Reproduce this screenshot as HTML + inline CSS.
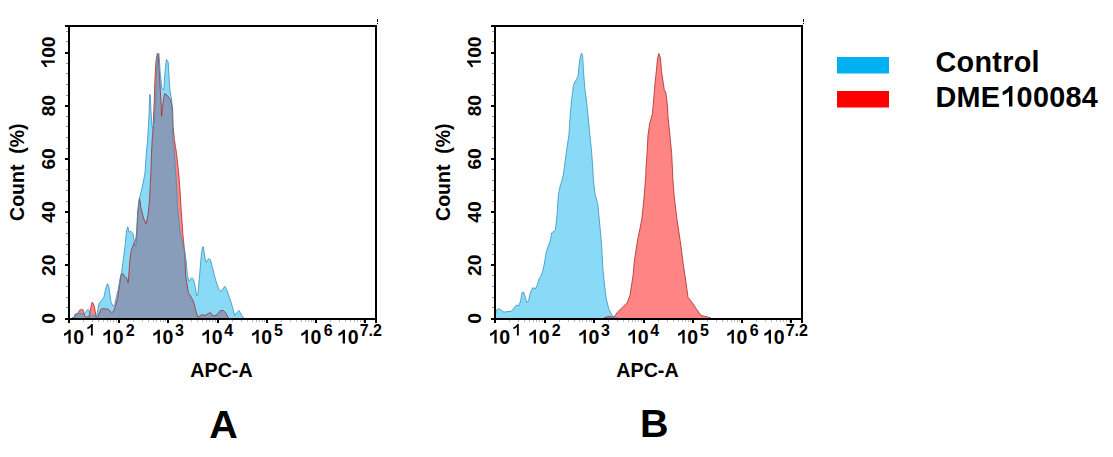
<!DOCTYPE html>
<html><head><meta charset="utf-8"><style>
html,body{margin:0;padding:0;background:#fff;width:1113px;height:457px;overflow:hidden}
svg{display:block}
text{font-family:"Liberation Sans",sans-serif;font-weight:bold;fill:#000} path{fill:#000}
.t16{font-size:16px} .t18{font-size:19.5px} .t19{font-size:19.5px} .ta{font-size:19.7px} .t29{font-size:29.3px} .t38{font-size:39.5px}
</style></head><body>
<svg width="1113" height="457" viewBox="0 0 1113 457"><rect width="1113" height="457" fill="#fff"/><polygon points="72.0,318.0 74.2,317.2 75.4,314.5 77.7,313.4 79.6,310.3 81.5,309.4 83.0,309.9 83.8,311.8 84.6,315.7 85.7,317.0 89.0,317.0 90.3,310.3 91.5,304.2 92.2,302.2 93.4,303.8 94.5,307.2 95.3,311.8 96.1,316.4 96.8,317.6 97.8,316.8 100.8,309.6 103.2,308.4 105.6,309.0 108.0,309.0 109.9,310.8 111.7,312.6 113.5,311.4 115.9,304.8 117.7,297.5 119.5,285.5 121.0,274.7 122.8,273.5 124.6,276.5 126.4,277.7 128.2,282.5 128.8,274.7 130.0,259.1 131.2,250.6 133.0,245.8 134.2,242.2 135.4,241.0 136.0,237.4 136.7,232.0 137.6,213.1 138.9,202.6 139.5,198.0 141.0,208.0 143.5,218.0 146.0,224.0 148.0,215.0 149.5,200.0 150.2,186.0 150.9,172.8 151.5,153.1 152.2,140.0 153.0,130.0 154.0,105.0 154.4,97.5 154.7,84.4 155.3,71.3 156.0,60.8 157.3,53.5 158.0,53.5 159.3,71.3 160.3,90.0 161.2,105.9 161.5,116.4 163.0,103.0 164.7,93.6 167.3,95.4 170.8,100.6 172.6,108.0 173.1,126.3 174.4,139.4 176.4,152.5 178.8,174.0 180.3,194.4 181.2,210.2 182.9,234.2 184.3,248.7 184.8,252.3 185.6,275.0 188.3,292.5 192.6,299.5 194.4,304.8 196.1,311.8 197.9,317.0 200.0,316.0 202.3,314.4 204.9,315.5 208.4,313.4 210.6,312.7 213.4,316.2 217.0,314.8 220.5,310.5 223.4,310.5 226.2,313.4 227.7,316.9 229.0,318.0" fill="#ff0b09" fill-opacity="0.5" stroke="none"/><polygon points="72.0,318.0 74.6,317.2 75.0,314.1 78.4,313.7 81.5,313.4 83.8,314.1 85.3,312.6 87.6,309.5 88.8,309.9 89.5,311.8 90.3,315.7 91.5,316.5 93.0,315.0 95.0,316.0 96.4,317.2 97.2,313.2 99.0,303.6 101.4,300.5 103.8,297.5 105.6,289.1 107.4,283.7 108.7,285.5 109.9,293.9 111.1,302.3 112.9,306.0 114.7,304.8 116.5,296.3 118.3,289.1 120.1,278.3 121.6,272.3 123.4,259.1 125.2,244.5 126.5,230.8 127.8,226.8 129.1,232.1 131.1,231.4 133.0,233.4 134.4,242.6 135.7,246.6 136.3,242.6 137.0,230.8 137.7,215.0 138.5,203.0 139.5,198.0 141.0,192.5 143.0,183.3 145.0,172.8 146.3,153.1 147.6,140.0 148.9,118.0 149.7,94.2 150.3,95.0 151.0,112.0 152.0,126.0 153.0,129.0 154.6,118.0 155.4,106.0 155.9,90.0 156.5,72.0 157.2,61.0 158.2,54.0 159.0,53.5 160.3,74.3 162.0,88.4 163.8,90.1 165.2,70.0 166.4,59.4 168.2,62.0 169.9,90.0 171.7,100.6 172.3,113.0 172.6,126.0 172.8,139.0 174.2,150.0 176.5,186.0 177.7,210.0 180.3,234.0 184.6,252.3 186.2,261.0 187.4,275.0 189.1,281.2 191.8,277.7 193.5,279.4 195.3,287.3 196.7,296.0 197.9,294.3 199.6,275.0 201.4,254.0 202.6,247.0 203.3,246.8 204.6,256.0 206.0,262.5 208.6,258.6 210.5,259.9 211.5,264.0 212.7,268.5 215.6,279.9 219.1,289.9 221.2,291.3 224.8,286.3 226.9,289.9 231.2,302.7 234.8,315.5 236.9,312.7 239.0,310.5 241.2,314.1 242.6,316.9 244.0,318.0" fill="#11b5ef" fill-opacity="0.5" stroke="none"/><polyline points="72.0,318.0 74.2,317.2 75.4,314.5 77.7,313.4 79.6,310.3 81.5,309.4 83.0,309.9 83.8,311.8 84.6,315.7 85.7,317.0 89.0,317.0 90.3,310.3 91.5,304.2 92.2,302.2 93.4,303.8 94.5,307.2 95.3,311.8 96.1,316.4 96.8,317.6 97.8,316.8 100.8,309.6 103.2,308.4 105.6,309.0 108.0,309.0 109.9,310.8 111.7,312.6 113.5,311.4 115.9,304.8 117.7,297.5 119.5,285.5 121.0,274.7 122.8,273.5 124.6,276.5 126.4,277.7 128.2,282.5 128.8,274.7 130.0,259.1 131.2,250.6 133.0,245.8 134.2,242.2 135.4,241.0 136.0,237.4 136.7,232.0 137.6,213.1 138.9,202.6 139.5,198.0 141.0,208.0 143.5,218.0 146.0,224.0 148.0,215.0 149.5,200.0 150.2,186.0 150.9,172.8 151.5,153.1 152.2,140.0 153.0,130.0 154.0,105.0 154.4,97.5 154.7,84.4 155.3,71.3 156.0,60.8 157.3,53.5 158.0,53.5 159.3,71.3 160.3,90.0 161.2,105.9 161.5,116.4 163.0,103.0 164.7,93.6 167.3,95.4 170.8,100.6 172.6,108.0 173.1,126.3 174.4,139.4 176.4,152.5 178.8,174.0 180.3,194.4 181.2,210.2 182.9,234.2 184.3,248.7 184.8,252.3 185.6,275.0 188.3,292.5 192.6,299.5 194.4,304.8 196.1,311.8 197.9,317.0 200.0,316.0 202.3,314.4 204.9,315.5 208.4,313.4 210.6,312.7 213.4,316.2 217.0,314.8 220.5,310.5 223.4,310.5 226.2,313.4 227.7,316.9 229.0,318.0" fill="none" stroke="#a82a2a" stroke-width="0.8" stroke-linejoin="miter" stroke-miterlimit="2"/><polyline points="72.0,318.0 74.6,317.2 75.0,314.1 78.4,313.7 81.5,313.4 83.8,314.1 85.3,312.6 87.6,309.5 88.8,309.9 89.5,311.8 90.3,315.7 91.5,316.5 93.0,315.0 95.0,316.0 96.4,317.2 97.2,313.2 99.0,303.6 101.4,300.5 103.8,297.5 105.6,289.1 107.4,283.7 108.7,285.5 109.9,293.9 111.1,302.3 112.9,306.0 114.7,304.8 116.5,296.3 118.3,289.1 120.1,278.3 121.6,272.3 123.4,259.1 125.2,244.5 126.5,230.8 127.8,226.8 129.1,232.1 131.1,231.4 133.0,233.4 134.4,242.6 135.7,246.6 136.3,242.6 137.0,230.8 137.7,215.0 138.5,203.0 139.5,198.0 141.0,192.5 143.0,183.3 145.0,172.8 146.3,153.1 147.6,140.0 148.9,118.0 149.7,94.2 150.3,95.0 151.0,112.0 152.0,126.0 153.0,129.0 154.6,118.0 155.4,106.0 155.9,90.0 156.5,72.0 157.2,61.0 158.2,54.0 159.0,53.5 160.3,74.3 162.0,88.4 163.8,90.1 165.2,70.0 166.4,59.4 168.2,62.0 169.9,90.0 171.7,100.6 172.3,113.0 172.6,126.0 172.8,139.0 174.2,150.0 176.5,186.0 177.7,210.0 180.3,234.0 184.6,252.3 186.2,261.0 187.4,275.0 189.1,281.2 191.8,277.7 193.5,279.4 195.3,287.3 196.7,296.0 197.9,294.3 199.6,275.0 201.4,254.0 202.6,247.0 203.3,246.8 204.6,256.0 206.0,262.5 208.6,258.6 210.5,259.9 211.5,264.0 212.7,268.5 215.6,279.9 219.1,289.9 221.2,291.3 224.8,286.3 226.9,289.9 231.2,302.7 234.8,315.5 236.9,312.7 239.0,310.5 241.2,314.1 242.6,316.9 244.0,318.0" fill="none" stroke="#3592bd" stroke-width="0.8" stroke-linejoin="miter" stroke-miterlimit="2"/><polygon points="604.0,318.0 608.0,316.5 612.0,316.8 614.1,317.4 615.0,315.6 617.6,312.1 622.0,307.8 627.3,302.5 629.9,295.5 631.6,285.0 633.1,275.0 634.2,262.5 636.0,250.0 637.5,240.6 641.9,218.8 644.1,196.9 645.8,175.0 645.9,170.0 647.1,152.5 648.0,135.0 649.8,122.8 652.4,114.0 653.6,100.0 654.9,84.4 656.3,71.3 657.6,58.1 658.9,53.5 660.5,58.1 661.5,71.3 663.5,84.4 664.4,91.0 665.7,91.6 666.8,100.1 667.4,105.0 668.1,117.5 669.9,135.0 671.6,152.5 672.5,170.0 672.9,180.0 674.3,196.9 676.9,218.8 680.2,240.6 681.5,250.0 683.2,264.0 685.4,278.0 688.0,297.3 691.5,301.6 696.8,309.5 701.1,315.6 704.6,316.2 709.0,317.4 711.0,318.0" fill="#ff0b09" fill-opacity="0.5" stroke="none"/><polygon points="495.0,318.0 496.1,310.4 498.8,308.6 501.4,310.4 504.0,312.1 507.5,311.6 511.0,311.3 513.6,308.6 516.3,305.1 518.9,305.7 520.6,300.8 522.0,292.9 523.6,292.0 525.0,296.4 526.8,302.5 528.5,300.8 530.6,292.0 532.9,287.6 535.2,288.9 537.3,285.0 539.0,278.9 540.8,276.3 542.5,271.9 544.3,264.0 545.7,255.3 546.9,250.0 550.5,240.0 551.5,233.1 555.4,230.1 557.0,214.4 558.4,194.7 560.4,184.8 561.4,182.5 563.3,175.0 564.5,166.5 566.3,152.5 568.9,135.0 570.1,117.5 571.5,100.0 572.3,94.9 573.4,85.7 574.3,83.1 576.9,78.5 578.2,75.2 579.1,64.7 580.0,58.1 581.5,53.1 582.6,55.5 583.5,71.3 584.8,88.3 586.4,100.0 588.2,117.5 589.9,135.0 591.7,152.5 592.9,170.0 593.4,180.0 594.8,192.7 597.8,204.5 600.7,234.1 601.9,250.0 602.8,267.5 604.5,285.0 606.3,299.0 608.9,309.5 612.4,315.6 615.0,317.4 618.0,318.0" fill="#11b5ef" fill-opacity="0.5" stroke="none"/><polyline points="604.0,318.0 608.0,316.5 612.0,316.8 614.1,317.4 615.0,315.6 617.6,312.1 622.0,307.8 627.3,302.5 629.9,295.5 631.6,285.0 633.1,275.0 634.2,262.5 636.0,250.0 637.5,240.6 641.9,218.8 644.1,196.9 645.8,175.0 645.9,170.0 647.1,152.5 648.0,135.0 649.8,122.8 652.4,114.0 653.6,100.0 654.9,84.4 656.3,71.3 657.6,58.1 658.9,53.5 660.5,58.1 661.5,71.3 663.5,84.4 664.4,91.0 665.7,91.6 666.8,100.1 667.4,105.0 668.1,117.5 669.9,135.0 671.6,152.5 672.5,170.0 672.9,180.0 674.3,196.9 676.9,218.8 680.2,240.6 681.5,250.0 683.2,264.0 685.4,278.0 688.0,297.3 691.5,301.6 696.8,309.5 701.1,315.6 704.6,316.2 709.0,317.4 711.0,318.0" fill="none" stroke="#a82a2a" stroke-width="0.8" stroke-linejoin="miter" stroke-miterlimit="2"/><polyline points="495.0,318.0 496.1,310.4 498.8,308.6 501.4,310.4 504.0,312.1 507.5,311.6 511.0,311.3 513.6,308.6 516.3,305.1 518.9,305.7 520.6,300.8 522.0,292.9 523.6,292.0 525.0,296.4 526.8,302.5 528.5,300.8 530.6,292.0 532.9,287.6 535.2,288.9 537.3,285.0 539.0,278.9 540.8,276.3 542.5,271.9 544.3,264.0 545.7,255.3 546.9,250.0 550.5,240.0 551.5,233.1 555.4,230.1 557.0,214.4 558.4,194.7 560.4,184.8 561.4,182.5 563.3,175.0 564.5,166.5 566.3,152.5 568.9,135.0 570.1,117.5 571.5,100.0 572.3,94.9 573.4,85.7 574.3,83.1 576.9,78.5 578.2,75.2 579.1,64.7 580.0,58.1 581.5,53.1 582.6,55.5 583.5,71.3 584.8,88.3 586.4,100.0 588.2,117.5 589.9,135.0 591.7,152.5 592.9,170.0 593.4,180.0 594.8,192.7 597.8,204.5 600.7,234.1 601.9,250.0 602.8,267.5 604.5,285.0 606.3,299.0 608.9,309.5 612.4,315.6 615.0,317.4 618.0,318.0" fill="none" stroke="#3592bd" stroke-width="0.8" stroke-linejoin="miter" stroke-miterlimit="2"/><rect x="65" y="25" width="312" height="2" fill="#000"/><rect x="65" y="318" width="312" height="2" fill="#000"/><rect x="68" y="25" width="2" height="298" fill="#000"/><rect x="375" y="25" width="2" height="298" fill="#000"/><rect x="377" y="19" width="1" height="3" fill="#000"/><rect x="377" y="23" width="1" height="1" fill="#000"/><rect x="65" y="264" width="3" height="2" fill="#000"/><rect x="65" y="211" width="3" height="2" fill="#000"/><rect x="65" y="158" width="3" height="2" fill="#000"/><rect x="65" y="105" width="3" height="2" fill="#000"/><rect x="65" y="52" width="3" height="2" fill="#000"/><rect x="66" y="307" width="2" height="1" fill="#999"/><rect x="66" y="297" width="2" height="1" fill="#999"/><rect x="66" y="286" width="2" height="1" fill="#999"/><rect x="66" y="275" width="2" height="1" fill="#999"/><rect x="66" y="254" width="2" height="1" fill="#999"/><rect x="66" y="244" width="2" height="1" fill="#999"/><rect x="66" y="233" width="2" height="1" fill="#999"/><rect x="66" y="222" width="2" height="1" fill="#999"/><rect x="66" y="201" width="2" height="1" fill="#999"/><rect x="66" y="190" width="2" height="1" fill="#999"/><rect x="66" y="180" width="2" height="1" fill="#999"/><rect x="66" y="169" width="2" height="1" fill="#999"/><rect x="66" y="148" width="2" height="1" fill="#999"/><rect x="66" y="137" width="2" height="1" fill="#999"/><rect x="66" y="126" width="2" height="1" fill="#999"/><rect x="66" y="116" width="2" height="1" fill="#999"/><rect x="66" y="95" width="2" height="1" fill="#999"/><rect x="66" y="84" width="2" height="1" fill="#999"/><rect x="66" y="73" width="2" height="1" fill="#999"/><rect x="66" y="63" width="2" height="1" fill="#999"/><rect x="66" y="41" width="2" height="1" fill="#999"/><rect x="66" y="31" width="2" height="1" fill="#999"/><rect x="68" y="318" width="2" height="5" fill="#000"/><rect x="83" y="320" width="1" height="2" fill="#bbb"/><rect x="92" y="320" width="1" height="2" fill="#bbb"/><rect x="98" y="320" width="1" height="2" fill="#bbb"/><rect x="103" y="320" width="1" height="2" fill="#bbb"/><rect x="107" y="320" width="1" height="2" fill="#bbb"/><rect x="110" y="320" width="1" height="2" fill="#bbb"/><rect x="113" y="320" width="1" height="2" fill="#bbb"/><rect x="116" y="320" width="1" height="2" fill="#bbb"/><rect x="118" y="318" width="2" height="5" fill="#000"/><rect x="133" y="320" width="1" height="2" fill="#bbb"/><rect x="142" y="320" width="1" height="2" fill="#bbb"/><rect x="148" y="320" width="1" height="2" fill="#bbb"/><rect x="153" y="320" width="1" height="2" fill="#bbb"/><rect x="156" y="320" width="1" height="2" fill="#bbb"/><rect x="160" y="320" width="1" height="2" fill="#bbb"/><rect x="163" y="320" width="1" height="2" fill="#bbb"/><rect x="165" y="320" width="1" height="2" fill="#bbb"/><rect x="167" y="318" width="2" height="5" fill="#000"/><rect x="182" y="320" width="1" height="2" fill="#bbb"/><rect x="191" y="320" width="1" height="2" fill="#bbb"/><rect x="197" y="320" width="1" height="2" fill="#bbb"/><rect x="202" y="320" width="1" height="2" fill="#bbb"/><rect x="206" y="320" width="1" height="2" fill="#bbb"/><rect x="209" y="320" width="1" height="2" fill="#bbb"/><rect x="212" y="320" width="1" height="2" fill="#bbb"/><rect x="215" y="320" width="1" height="2" fill="#bbb"/><rect x="217" y="318" width="2" height="5" fill="#000"/><rect x="232" y="320" width="1" height="2" fill="#bbb"/><rect x="241" y="320" width="1" height="2" fill="#bbb"/><rect x="247" y="320" width="1" height="2" fill="#bbb"/><rect x="252" y="320" width="1" height="2" fill="#bbb"/><rect x="256" y="320" width="1" height="2" fill="#bbb"/><rect x="259" y="320" width="1" height="2" fill="#bbb"/><rect x="262" y="320" width="1" height="2" fill="#bbb"/><rect x="264" y="320" width="1" height="2" fill="#bbb"/><rect x="266" y="318" width="2" height="5" fill="#000"/><rect x="281" y="320" width="1" height="2" fill="#bbb"/><rect x="290" y="320" width="1" height="2" fill="#bbb"/><rect x="296" y="320" width="1" height="2" fill="#bbb"/><rect x="301" y="320" width="1" height="2" fill="#bbb"/><rect x="305" y="320" width="1" height="2" fill="#bbb"/><rect x="308" y="320" width="1" height="2" fill="#bbb"/><rect x="311" y="320" width="1" height="2" fill="#bbb"/><rect x="313" y="320" width="1" height="2" fill="#bbb"/><rect x="315" y="318" width="2" height="5" fill="#000"/><rect x="330" y="320" width="1" height="2" fill="#bbb"/><rect x="339" y="320" width="1" height="2" fill="#bbb"/><rect x="345" y="320" width="1" height="2" fill="#bbb"/><rect x="350" y="320" width="1" height="2" fill="#bbb"/><rect x="354" y="320" width="1" height="2" fill="#bbb"/><rect x="357" y="320" width="1" height="2" fill="#bbb"/><rect x="360" y="320" width="1" height="2" fill="#bbb"/><rect x="363" y="320" width="1" height="2" fill="#bbb"/><rect x="364" y="318" width="2" height="5" fill="#000"/><g transform="translate(54.8,318.50) rotate(-90)"><text x="-5.34" y="0.00" style="font-size:19.2px;letter-spacing:0.0px" xml:space="preserve">0</text></g><g transform="translate(54.8,265.30) rotate(-90)"><text x="-10.68" y="0.00" style="font-size:19.2px;letter-spacing:0.0px" xml:space="preserve">20</text></g><g transform="translate(54.8,212.10) rotate(-90)"><text x="-10.68" y="0.00" style="font-size:19.2px;letter-spacing:0.0px" xml:space="preserve">40</text></g><g transform="translate(54.8,158.90) rotate(-90)"><text x="-10.68" y="0.00" style="font-size:19.2px;letter-spacing:0.0px" xml:space="preserve">60</text></g><g transform="translate(54.8,105.70) rotate(-90)"><text x="-10.68" y="0.00" style="font-size:19.2px;letter-spacing:0.0px" xml:space="preserve">80</text></g><g transform="translate(54.8,52.50) rotate(-90)"><path d="M861 0L620 0L620 1075L509 984L400 912L290 855L169 808L169 1057L320 1130L460 1230L580 1350L668 1466L861 1466Z" transform="translate(-16.02,0.00) scale(0.00937,-0.00937)"/><text x="-5.34" y="0.00" style="font-size:19.2px;letter-spacing:0.0px" xml:space="preserve">00</text></g><g transform="translate(23.7,172.2) rotate(-90)"><text x="-48.74" y="0.00" style="font-size:19.5px;letter-spacing:0.0px" xml:space="preserve">Count  (%)</text></g><path d="M861 0L620 0L620 1075L509 984L400 912L290 855L169 808L169 1057L320 1130L460 1230L580 1350L668 1466L861 1466Z" transform="translate(62.48,343.60) scale(0.00952,-0.00952)"/><text x="73.33" y="343.60" style="font-size:19.5px;letter-spacing:0.0px" xml:space="preserve">0</text><path d="M861 0L620 0L620 1075L509 984L400 912L290 855L169 808L169 1057L320 1130L460 1230L580 1350L668 1466L861 1466Z" transform="translate(86.08,335.50) scale(0.00781,-0.00781)"/><path d="M861 0L620 0L620 1075L509 984L400 912L290 855L169 808L169 1057L320 1130L460 1230L580 1350L668 1466L861 1466Z" transform="translate(101.78,343.60) scale(0.00952,-0.00952)"/><text x="112.63" y="343.60" style="font-size:19.5px;letter-spacing:0.0px" xml:space="preserve">0</text><text x="125.75" y="335.50" style="font-size:16px;letter-spacing:0.0px" xml:space="preserve">2</text><path d="M861 0L620 0L620 1075L509 984L400 912L290 855L169 808L169 1057L320 1130L460 1230L580 1350L668 1466L861 1466Z" transform="translate(151.68,343.60) scale(0.00952,-0.00952)"/><text x="162.53" y="343.60" style="font-size:19.5px;letter-spacing:0.0px" xml:space="preserve">0</text><text x="174.93" y="335.50" style="font-size:16px;letter-spacing:0.0px" xml:space="preserve">3</text><path d="M861 0L620 0L620 1075L509 984L400 912L290 855L169 808L169 1057L320 1130L460 1230L580 1350L668 1466L861 1466Z" transform="translate(200.78,343.60) scale(0.00952,-0.00952)"/><text x="211.63" y="343.60" style="font-size:19.5px;letter-spacing:0.0px" xml:space="preserve">0</text><text x="224.16" y="335.50" style="font-size:16px;letter-spacing:0.0px" xml:space="preserve">4</text><path d="M861 0L620 0L620 1075L509 984L400 912L290 855L169 808L169 1057L320 1130L460 1230L580 1350L668 1466L861 1466Z" transform="translate(250.48,343.60) scale(0.00952,-0.00952)"/><text x="261.33" y="343.60" style="font-size:19.5px;letter-spacing:0.0px" xml:space="preserve">0</text><text x="273.91" y="335.50" style="font-size:16px;letter-spacing:0.0px" xml:space="preserve">5</text><path d="M861 0L620 0L620 1075L509 984L400 912L290 855L169 808L169 1057L320 1130L460 1230L580 1350L668 1466L861 1466Z" transform="translate(299.68,343.60) scale(0.00952,-0.00952)"/><text x="310.53" y="343.60" style="font-size:19.5px;letter-spacing:0.0px" xml:space="preserve">0</text><text x="323.71" y="335.50" style="font-size:16px;letter-spacing:0.0px" xml:space="preserve">6</text><path d="M861 0L620 0L620 1075L509 984L400 912L290 855L169 808L169 1057L320 1130L460 1230L580 1350L668 1466L861 1466Z" transform="translate(336.78,343.60) scale(0.00952,-0.00952)"/><text x="347.63" y="343.60" style="font-size:19.5px;letter-spacing:0.0px" xml:space="preserve">0</text><text x="359.71" y="335.50" style="font-size:16px;letter-spacing:0.0px" xml:space="preserve">7.2</text><text x="190.31" y="376.90" style="font-size:19.7px;letter-spacing:0.0px" xml:space="preserve">APC-A</text><rect x="491" y="25" width="312" height="2" fill="#000"/><rect x="491" y="318" width="312" height="2" fill="#000"/><rect x="494" y="25" width="2" height="298" fill="#000"/><rect x="801" y="25" width="2" height="298" fill="#000"/><rect x="803" y="19" width="1" height="3" fill="#000"/><rect x="803" y="23" width="1" height="1" fill="#000"/><rect x="491" y="264" width="3" height="2" fill="#000"/><rect x="491" y="211" width="3" height="2" fill="#000"/><rect x="491" y="158" width="3" height="2" fill="#000"/><rect x="491" y="105" width="3" height="2" fill="#000"/><rect x="491" y="52" width="3" height="2" fill="#000"/><rect x="492" y="307" width="2" height="1" fill="#999"/><rect x="492" y="297" width="2" height="1" fill="#999"/><rect x="492" y="286" width="2" height="1" fill="#999"/><rect x="492" y="275" width="2" height="1" fill="#999"/><rect x="492" y="254" width="2" height="1" fill="#999"/><rect x="492" y="244" width="2" height="1" fill="#999"/><rect x="492" y="233" width="2" height="1" fill="#999"/><rect x="492" y="222" width="2" height="1" fill="#999"/><rect x="492" y="201" width="2" height="1" fill="#999"/><rect x="492" y="190" width="2" height="1" fill="#999"/><rect x="492" y="180" width="2" height="1" fill="#999"/><rect x="492" y="169" width="2" height="1" fill="#999"/><rect x="492" y="148" width="2" height="1" fill="#999"/><rect x="492" y="137" width="2" height="1" fill="#999"/><rect x="492" y="126" width="2" height="1" fill="#999"/><rect x="492" y="116" width="2" height="1" fill="#999"/><rect x="492" y="95" width="2" height="1" fill="#999"/><rect x="492" y="84" width="2" height="1" fill="#999"/><rect x="492" y="73" width="2" height="1" fill="#999"/><rect x="492" y="63" width="2" height="1" fill="#999"/><rect x="492" y="41" width="2" height="1" fill="#999"/><rect x="492" y="31" width="2" height="1" fill="#999"/><rect x="494" y="318" width="2" height="5" fill="#000"/><rect x="509" y="320" width="1" height="2" fill="#bbb"/><rect x="518" y="320" width="1" height="2" fill="#bbb"/><rect x="524" y="320" width="1" height="2" fill="#bbb"/><rect x="529" y="320" width="1" height="2" fill="#bbb"/><rect x="533" y="320" width="1" height="2" fill="#bbb"/><rect x="536" y="320" width="1" height="2" fill="#bbb"/><rect x="539" y="320" width="1" height="2" fill="#bbb"/><rect x="542" y="320" width="1" height="2" fill="#bbb"/><rect x="544" y="318" width="2" height="5" fill="#000"/><rect x="559" y="320" width="1" height="2" fill="#bbb"/><rect x="568" y="320" width="1" height="2" fill="#bbb"/><rect x="574" y="320" width="1" height="2" fill="#bbb"/><rect x="579" y="320" width="1" height="2" fill="#bbb"/><rect x="582" y="320" width="1" height="2" fill="#bbb"/><rect x="586" y="320" width="1" height="2" fill="#bbb"/><rect x="589" y="320" width="1" height="2" fill="#bbb"/><rect x="591" y="320" width="1" height="2" fill="#bbb"/><rect x="593" y="318" width="2" height="5" fill="#000"/><rect x="608" y="320" width="1" height="2" fill="#bbb"/><rect x="617" y="320" width="1" height="2" fill="#bbb"/><rect x="623" y="320" width="1" height="2" fill="#bbb"/><rect x="628" y="320" width="1" height="2" fill="#bbb"/><rect x="632" y="320" width="1" height="2" fill="#bbb"/><rect x="635" y="320" width="1" height="2" fill="#bbb"/><rect x="638" y="320" width="1" height="2" fill="#bbb"/><rect x="641" y="320" width="1" height="2" fill="#bbb"/><rect x="643" y="318" width="2" height="5" fill="#000"/><rect x="658" y="320" width="1" height="2" fill="#bbb"/><rect x="667" y="320" width="1" height="2" fill="#bbb"/><rect x="673" y="320" width="1" height="2" fill="#bbb"/><rect x="678" y="320" width="1" height="2" fill="#bbb"/><rect x="682" y="320" width="1" height="2" fill="#bbb"/><rect x="685" y="320" width="1" height="2" fill="#bbb"/><rect x="688" y="320" width="1" height="2" fill="#bbb"/><rect x="690" y="320" width="1" height="2" fill="#bbb"/><rect x="692" y="318" width="2" height="5" fill="#000"/><rect x="707" y="320" width="1" height="2" fill="#bbb"/><rect x="716" y="320" width="1" height="2" fill="#bbb"/><rect x="722" y="320" width="1" height="2" fill="#bbb"/><rect x="727" y="320" width="1" height="2" fill="#bbb"/><rect x="731" y="320" width="1" height="2" fill="#bbb"/><rect x="734" y="320" width="1" height="2" fill="#bbb"/><rect x="737" y="320" width="1" height="2" fill="#bbb"/><rect x="739" y="320" width="1" height="2" fill="#bbb"/><rect x="741" y="318" width="2" height="5" fill="#000"/><rect x="756" y="320" width="1" height="2" fill="#bbb"/><rect x="765" y="320" width="1" height="2" fill="#bbb"/><rect x="771" y="320" width="1" height="2" fill="#bbb"/><rect x="776" y="320" width="1" height="2" fill="#bbb"/><rect x="780" y="320" width="1" height="2" fill="#bbb"/><rect x="783" y="320" width="1" height="2" fill="#bbb"/><rect x="786" y="320" width="1" height="2" fill="#bbb"/><rect x="789" y="320" width="1" height="2" fill="#bbb"/><rect x="790" y="318" width="2" height="5" fill="#000"/><g transform="translate(480.8,318.50) rotate(-90)"><text x="-5.34" y="0.00" style="font-size:19.2px;letter-spacing:0.0px" xml:space="preserve">0</text></g><g transform="translate(480.8,265.30) rotate(-90)"><text x="-10.68" y="0.00" style="font-size:19.2px;letter-spacing:0.0px" xml:space="preserve">20</text></g><g transform="translate(480.8,212.10) rotate(-90)"><text x="-10.68" y="0.00" style="font-size:19.2px;letter-spacing:0.0px" xml:space="preserve">40</text></g><g transform="translate(480.8,158.90) rotate(-90)"><text x="-10.68" y="0.00" style="font-size:19.2px;letter-spacing:0.0px" xml:space="preserve">60</text></g><g transform="translate(480.8,105.70) rotate(-90)"><text x="-10.68" y="0.00" style="font-size:19.2px;letter-spacing:0.0px" xml:space="preserve">80</text></g><g transform="translate(480.8,52.50) rotate(-90)"><path d="M861 0L620 0L620 1075L509 984L400 912L290 855L169 808L169 1057L320 1130L460 1230L580 1350L668 1466L861 1466Z" transform="translate(-16.02,0.00) scale(0.00937,-0.00937)"/><text x="-5.34" y="0.00" style="font-size:19.2px;letter-spacing:0.0px" xml:space="preserve">00</text></g><g transform="translate(449.7,172.2) rotate(-90)"><text x="-48.74" y="0.00" style="font-size:19.5px;letter-spacing:0.0px" xml:space="preserve">Count  (%)</text></g><path d="M861 0L620 0L620 1075L509 984L400 912L290 855L169 808L169 1057L320 1130L460 1230L580 1350L668 1466L861 1466Z" transform="translate(488.48,343.60) scale(0.00952,-0.00952)"/><text x="499.33" y="343.60" style="font-size:19.5px;letter-spacing:0.0px" xml:space="preserve">0</text><path d="M861 0L620 0L620 1075L509 984L400 912L290 855L169 808L169 1057L320 1130L460 1230L580 1350L668 1466L861 1466Z" transform="translate(512.08,335.50) scale(0.00781,-0.00781)"/><path d="M861 0L620 0L620 1075L509 984L400 912L290 855L169 808L169 1057L320 1130L460 1230L580 1350L668 1466L861 1466Z" transform="translate(527.78,343.60) scale(0.00952,-0.00952)"/><text x="538.63" y="343.60" style="font-size:19.5px;letter-spacing:0.0px" xml:space="preserve">0</text><text x="551.75" y="335.50" style="font-size:16px;letter-spacing:0.0px" xml:space="preserve">2</text><path d="M861 0L620 0L620 1075L509 984L400 912L290 855L169 808L169 1057L320 1130L460 1230L580 1350L668 1466L861 1466Z" transform="translate(577.68,343.60) scale(0.00952,-0.00952)"/><text x="588.53" y="343.60" style="font-size:19.5px;letter-spacing:0.0px" xml:space="preserve">0</text><text x="600.93" y="335.50" style="font-size:16px;letter-spacing:0.0px" xml:space="preserve">3</text><path d="M861 0L620 0L620 1075L509 984L400 912L290 855L169 808L169 1057L320 1130L460 1230L580 1350L668 1466L861 1466Z" transform="translate(626.78,343.60) scale(0.00952,-0.00952)"/><text x="637.63" y="343.60" style="font-size:19.5px;letter-spacing:0.0px" xml:space="preserve">0</text><text x="650.16" y="335.50" style="font-size:16px;letter-spacing:0.0px" xml:space="preserve">4</text><path d="M861 0L620 0L620 1075L509 984L400 912L290 855L169 808L169 1057L320 1130L460 1230L580 1350L668 1466L861 1466Z" transform="translate(676.48,343.60) scale(0.00952,-0.00952)"/><text x="687.33" y="343.60" style="font-size:19.5px;letter-spacing:0.0px" xml:space="preserve">0</text><text x="699.91" y="335.50" style="font-size:16px;letter-spacing:0.0px" xml:space="preserve">5</text><path d="M861 0L620 0L620 1075L509 984L400 912L290 855L169 808L169 1057L320 1130L460 1230L580 1350L668 1466L861 1466Z" transform="translate(725.68,343.60) scale(0.00952,-0.00952)"/><text x="736.53" y="343.60" style="font-size:19.5px;letter-spacing:0.0px" xml:space="preserve">0</text><text x="749.71" y="335.50" style="font-size:16px;letter-spacing:0.0px" xml:space="preserve">6</text><path d="M861 0L620 0L620 1075L509 984L400 912L290 855L169 808L169 1057L320 1130L460 1230L580 1350L668 1466L861 1466Z" transform="translate(762.78,343.60) scale(0.00952,-0.00952)"/><text x="773.63" y="343.60" style="font-size:19.5px;letter-spacing:0.0px" xml:space="preserve">0</text><text x="785.71" y="335.50" style="font-size:16px;letter-spacing:0.0px" xml:space="preserve">7.2</text><text x="616.31" y="376.90" style="font-size:19.7px;letter-spacing:0.0px" xml:space="preserve">APC-A</text><text x="209.24" y="438.30" style="font-size:39.5px;letter-spacing:0.0px" xml:space="preserve">A</text><text x="640.04" y="437.30" style="font-size:39.5px;letter-spacing:0.0px" xml:space="preserve">B</text><rect x="837" y="57" width="52" height="16.5" fill="#00b0f0"/><rect x="837" y="91" width="52" height="16.5" fill="#ff0000"/><text x="935.40" y="71.60" style="font-size:28.8px;letter-spacing:0.3px" xml:space="preserve">Control</text><text x="935.40" y="106.50" style="font-size:28.8px;letter-spacing:0.3px" xml:space="preserve">DME</text><path d="M861 0L620 0L620 1075L509 984L400 912L290 855L169 808L169 1057L320 1130L460 1230L580 1350L668 1466L861 1466Z" transform="translate(1000.30,106.50) scale(0.01406,-0.01406)"/><text x="1016.62" y="106.50" style="font-size:28.8px;letter-spacing:0.3px" xml:space="preserve">00084</text></svg>
</body></html>
